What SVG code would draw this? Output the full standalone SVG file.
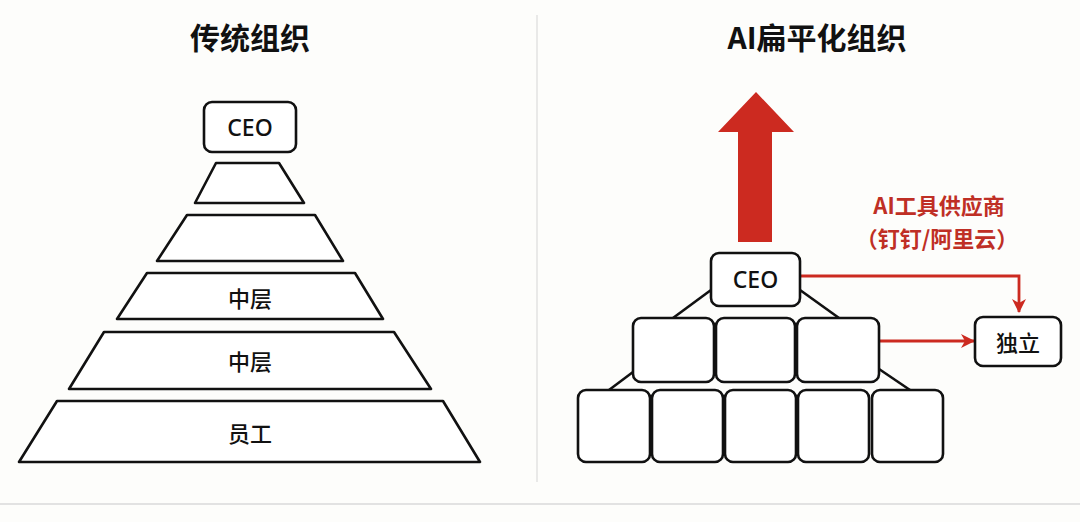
<svg xmlns="http://www.w3.org/2000/svg" width="1080" height="522" viewBox="0 0 1080 522">
<style>
.bg{fill:#fdfdfb}
.shape{fill:#fff;stroke:#111;stroke-width:2.6;stroke-linejoin:round}
.link{stroke:#111;stroke-width:2.6;fill:none}
.red{stroke:#cc2a20;stroke-width:2.8;fill:none}
.title{font-family:"Noto Sans CJK SC","Noto Sans",sans-serif;font-weight:700;font-size:30px;fill:#111;text-anchor:middle}
.lbl{font-family:"Noto Sans","Noto Sans CJK SC",sans-serif;font-size:23px;font-weight:500;fill:#111;text-anchor:middle;dominant-baseline:central}
.zh{font-family:"Noto Sans CJK SC",sans-serif;font-size:22px;font-weight:500;fill:#111;text-anchor:middle;dominant-baseline:central}
.rt{font-family:"Noto Sans CJK SC",sans-serif;font-size:22px;fill:#bf2f25;text-anchor:middle;dominant-baseline:central;font-weight:700}
</style>
<defs>
<marker id="ah" viewBox="0 0 14 14" refX="13" refY="7" markerWidth="14" markerHeight="14" orient="auto" markerUnits="userSpaceOnUse">
<path d="M0,0 L14,7 L0,14 L4,7 z" fill="#cc2a20"/>
</marker>
</defs>
<rect class="bg" x="0" y="0" width="1080" height="522"/>
<line x1="537" y1="15" x2="537" y2="482" stroke="#dcdcdc" stroke-width="1.2"/>
<line x1="0" y1="504" x2="1080" y2="504" stroke="#e2e2e2" stroke-width="2"/>
<text class="title" x="250" y="49">传统组织</text>
<text class="title" x="817" y="49">AI扁平化组织</text>

<g id="left-ceo"><rect class="shape" x="204" y="102" width="92" height="50" rx="8"/><text class="lbl" x="250" y="127">CEO</text></g>
<g id="left-l1"><polygon class="shape" points="216,163 279,163 304,203 195,203"/></g>
<g id="left-l2"><polygon class="shape" points="187,215 315,215 343,261 157,261"/></g>
<g id="left-l3"><polygon class="shape" points="147,273 355,273 383,319 117,319"/><text class="zh" x="250" y="297">中层</text></g>
<g id="left-l4"><polygon class="shape" points="104,332 394,332 431,389 69,389"/><text class="zh" x="250" y="360">中层</text></g>
<g id="left-l5"><polygon class="shape" points="57,401 443,401 480,462 19,462"/><text class="zh" x="250" y="432">员工</text></g>

<g id="arrow-up"><polygon points="738,242 772,242 772,132 794,132 756,92 718,132 738,132" fill="#cc2a20"/></g>

<g id="connectors">
<line class="link" x1="711" y1="290" x2="673" y2="318"/>
<line class="link" x1="800" y1="290" x2="839" y2="318"/>
<line class="link" x1="633" y1="372" x2="609" y2="390"/>
<line class="link" x1="879" y1="369" x2="910" y2="390"/>
<polyline class="red" points="800,276 1019,276 1019,312" marker-end="url(#ah)"/>
<line class="red" x1="879" y1="341" x2="974" y2="341" marker-end="url(#ah)"/>
</g>

<g id="right-ceo"><rect class="shape" x="711" y="253" width="89" height="53" rx="8"/><text class="lbl" x="755.5" y="279">CEO</text></g>
<g id="m1"><rect class="shape" x="633" y="318" width="81" height="64" rx="8"/></g>
<g id="m2"><rect class="shape" x="716" y="318" width="79" height="64" rx="8"/></g>
<g id="m3"><rect class="shape" x="797" y="318" width="82" height="64" rx="8"/></g>
<g id="b1"><rect class="shape" x="578" y="390" width="72" height="72" rx="8"/></g>
<g id="b2"><rect class="shape" x="652" y="390" width="71" height="72" rx="8"/></g>
<g id="b3"><rect class="shape" x="725" y="390" width="71" height="72" rx="8"/></g>
<g id="b4"><rect class="shape" x="798" y="390" width="71" height="72" rx="8"/></g>
<g id="b5"><rect class="shape" x="872" y="390" width="71" height="72" rx="8"/></g>
<g id="indep"><rect class="shape" x="975" y="317" width="86" height="49" rx="8"/><text class="zh" x="1018" y="341">独立</text></g>

<g id="vendor-label">
<text class="rt" x="939" y="204">AI工具供应商</text>
<text class="rt" x="937" y="237">（钉钉/阿里云）</text>
</g>
</svg>
